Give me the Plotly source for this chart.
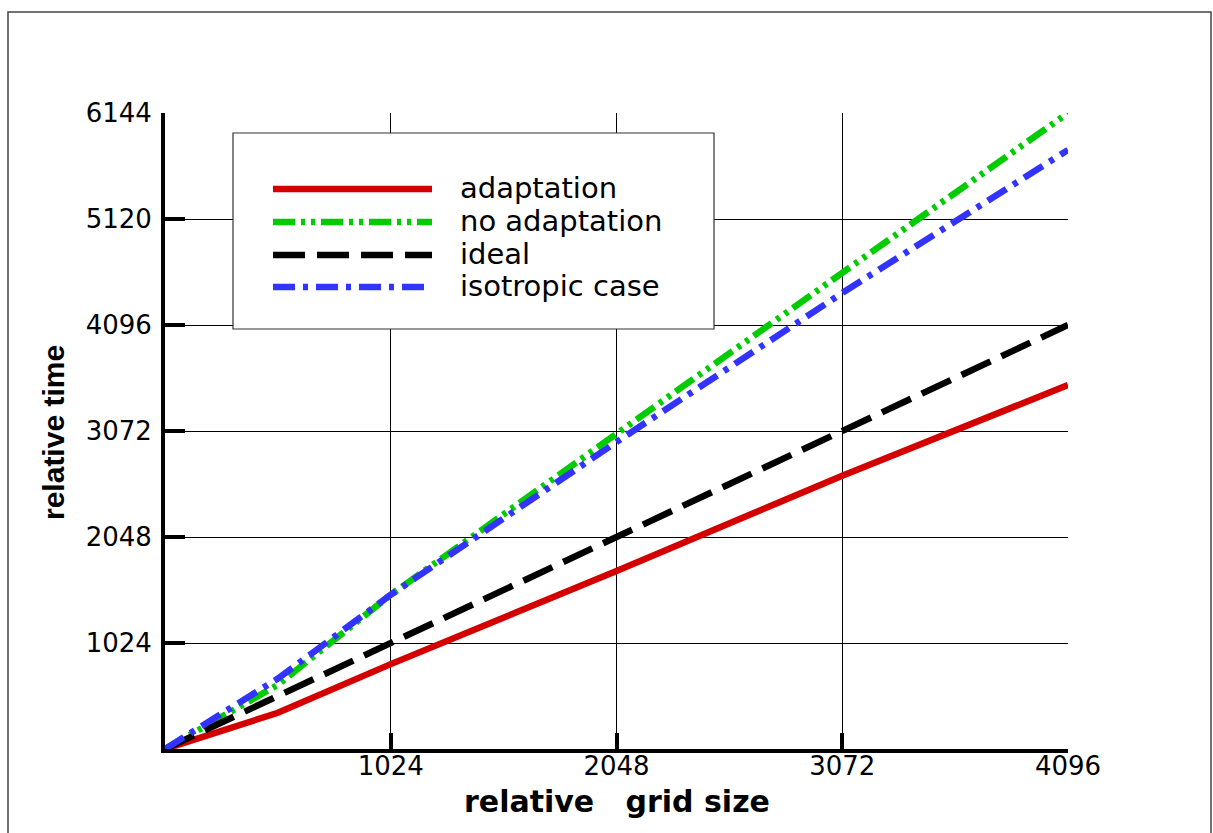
import plotly.graph_objects as go

# ---- data ----
grid_size = [0, 512, 1024, 2048, 3072, 4096]
adaptation = [0, 350, 820, 1720, 2640, 3516]
no_adaptation = [0, 620, 1490, 3050, 4600, 6144]
ideal = [0, 512, 1024, 2048, 3072, 4096]
isotropic = [0, 680, 1490, 2966, 4405, 5787]

x_ticks = [1024, 2048, 3072, 4096]
y_ticks = [1024, 2048, 3072, 4096, 5120, 6144]

series_names = ["adaptation", "no adaptation", "ideal", "isotropic case"]

# ---- layout constants (pixels) ----
W, H = 1213, 833
L, R, T, B = 165, 1068, 113, 749


def px(x):
    return (x - L) / (R - L)


def py(y):
    return (B - y) / (B - T)


styles = {
    "adaptation": dict(color="#d40000", width=6.5, dash="solid"),
    "no adaptation": dict(color="#00cc00", width=6.5, dash="22px,6px,4px,6px,4px,6px"),
    "ideal": dict(color="#000000", width=6.5, dash="32px,12px"),
    "isotropic case": dict(color="#3333ff", width=6.5, dash="22px,8px,5px,8px"),
}

fig = go.Figure()
data_map = {
    "adaptation": adaptation,
    "no adaptation": no_adaptation,
    "ideal": ideal,
    "isotropic case": isotropic,
}
for name in ["adaptation", "no adaptation", "ideal", "isotropic case"]:
    fig.add_trace(go.Scatter(x=grid_size, y=data_map[name], mode="lines",
                             name=name, line=styles[name], showlegend=False))

shapes = []
annotations = []

# outer frame
shapes.append(dict(type="rect", xref="paper", yref="paper",
                   x0=px(8), x1=px(1211), y0=py(845), y1=py(12),
                   line=dict(color="#444444", width=1.5), layer="below"))

# legend box
shapes.append(dict(type="rect", xref="paper", yref="paper",
                   x0=px(233), x1=px(714), y0=py(329), y1=py(133),
                   line=dict(color="#333333", width=1.2), fillcolor="white", layer="above"))
row_y = [189, 222, 255, 287]
for name, yy in zip(series_names, row_y):
    st = styles[name]
    shapes.append(dict(type="line", xref="paper", yref="paper",
                       x0=px(273), x1=px(432), y0=py(yy), y1=py(yy),
                       line=dict(color=st["color"], width=st["width"], dash=st["dash"]),
                       layer="above"))
    annotations.append(dict(xref="paper", yref="paper", x=px(458), y=py(yy - 1),
                            xanchor="left", yanchor="middle", showarrow=False,
                            text=name, font=dict(family="DejaVu Sans", size=29, color="black")))

# axis titles
annotations.append(dict(xref="paper", yref="paper", x=px(617), y=py(801),
                        xanchor="center", yanchor="middle", showarrow=False,
                        text="relative\u00a0\u00a0\u00a0grid size",
                        font=dict(family="DejaVu Sans", size=30, color="black", weight="bold")))
annotations.append(dict(xref="paper", yref="paper", x=px(53), y=py(433),
                        xanchor="center", yanchor="middle", showarrow=False, textangle=-90,
                        text="relative time",
                        font=dict(family="Liberation Sans", size=30, color="black", weight="bold")))

fig.update_layout(
    width=W, height=H,
    margin=dict(l=L, r=W - R, t=T, b=H - B),
    paper_bgcolor="white", plot_bgcolor="white",
    shapes=shapes, annotations=annotations,
    showlegend=False,
)
fig.update_xaxes(range=[0, 4096], tickvals=x_ticks, ticktext=[str(v) for v in x_ticks],
                 showgrid=True, gridcolor="black", gridwidth=1, zeroline=False,
                 showline=True, linecolor="black", linewidth=4,
                 ticks="inside", ticklen=16, tickwidth=4, tickcolor="black",
                 ticklabelstandoff=-9,
                 tickfont=dict(family="DejaVu Sans", size=26, color="black"))
fig.update_yaxes(range=[0, 6144], tickvals=y_ticks, ticktext=[str(v) for v in y_ticks],
                 showgrid=True, gridcolor="black", gridwidth=1, zeroline=False,
                 showline=True, linecolor="black", linewidth=4,
                 ticks="inside", ticklen=20, tickwidth=4, tickcolor="black",
                 ticklabelstandoff=4,
                 tickfont=dict(family="DejaVu Sans", size=26, color="black"))

fig.write_html("out.html")
